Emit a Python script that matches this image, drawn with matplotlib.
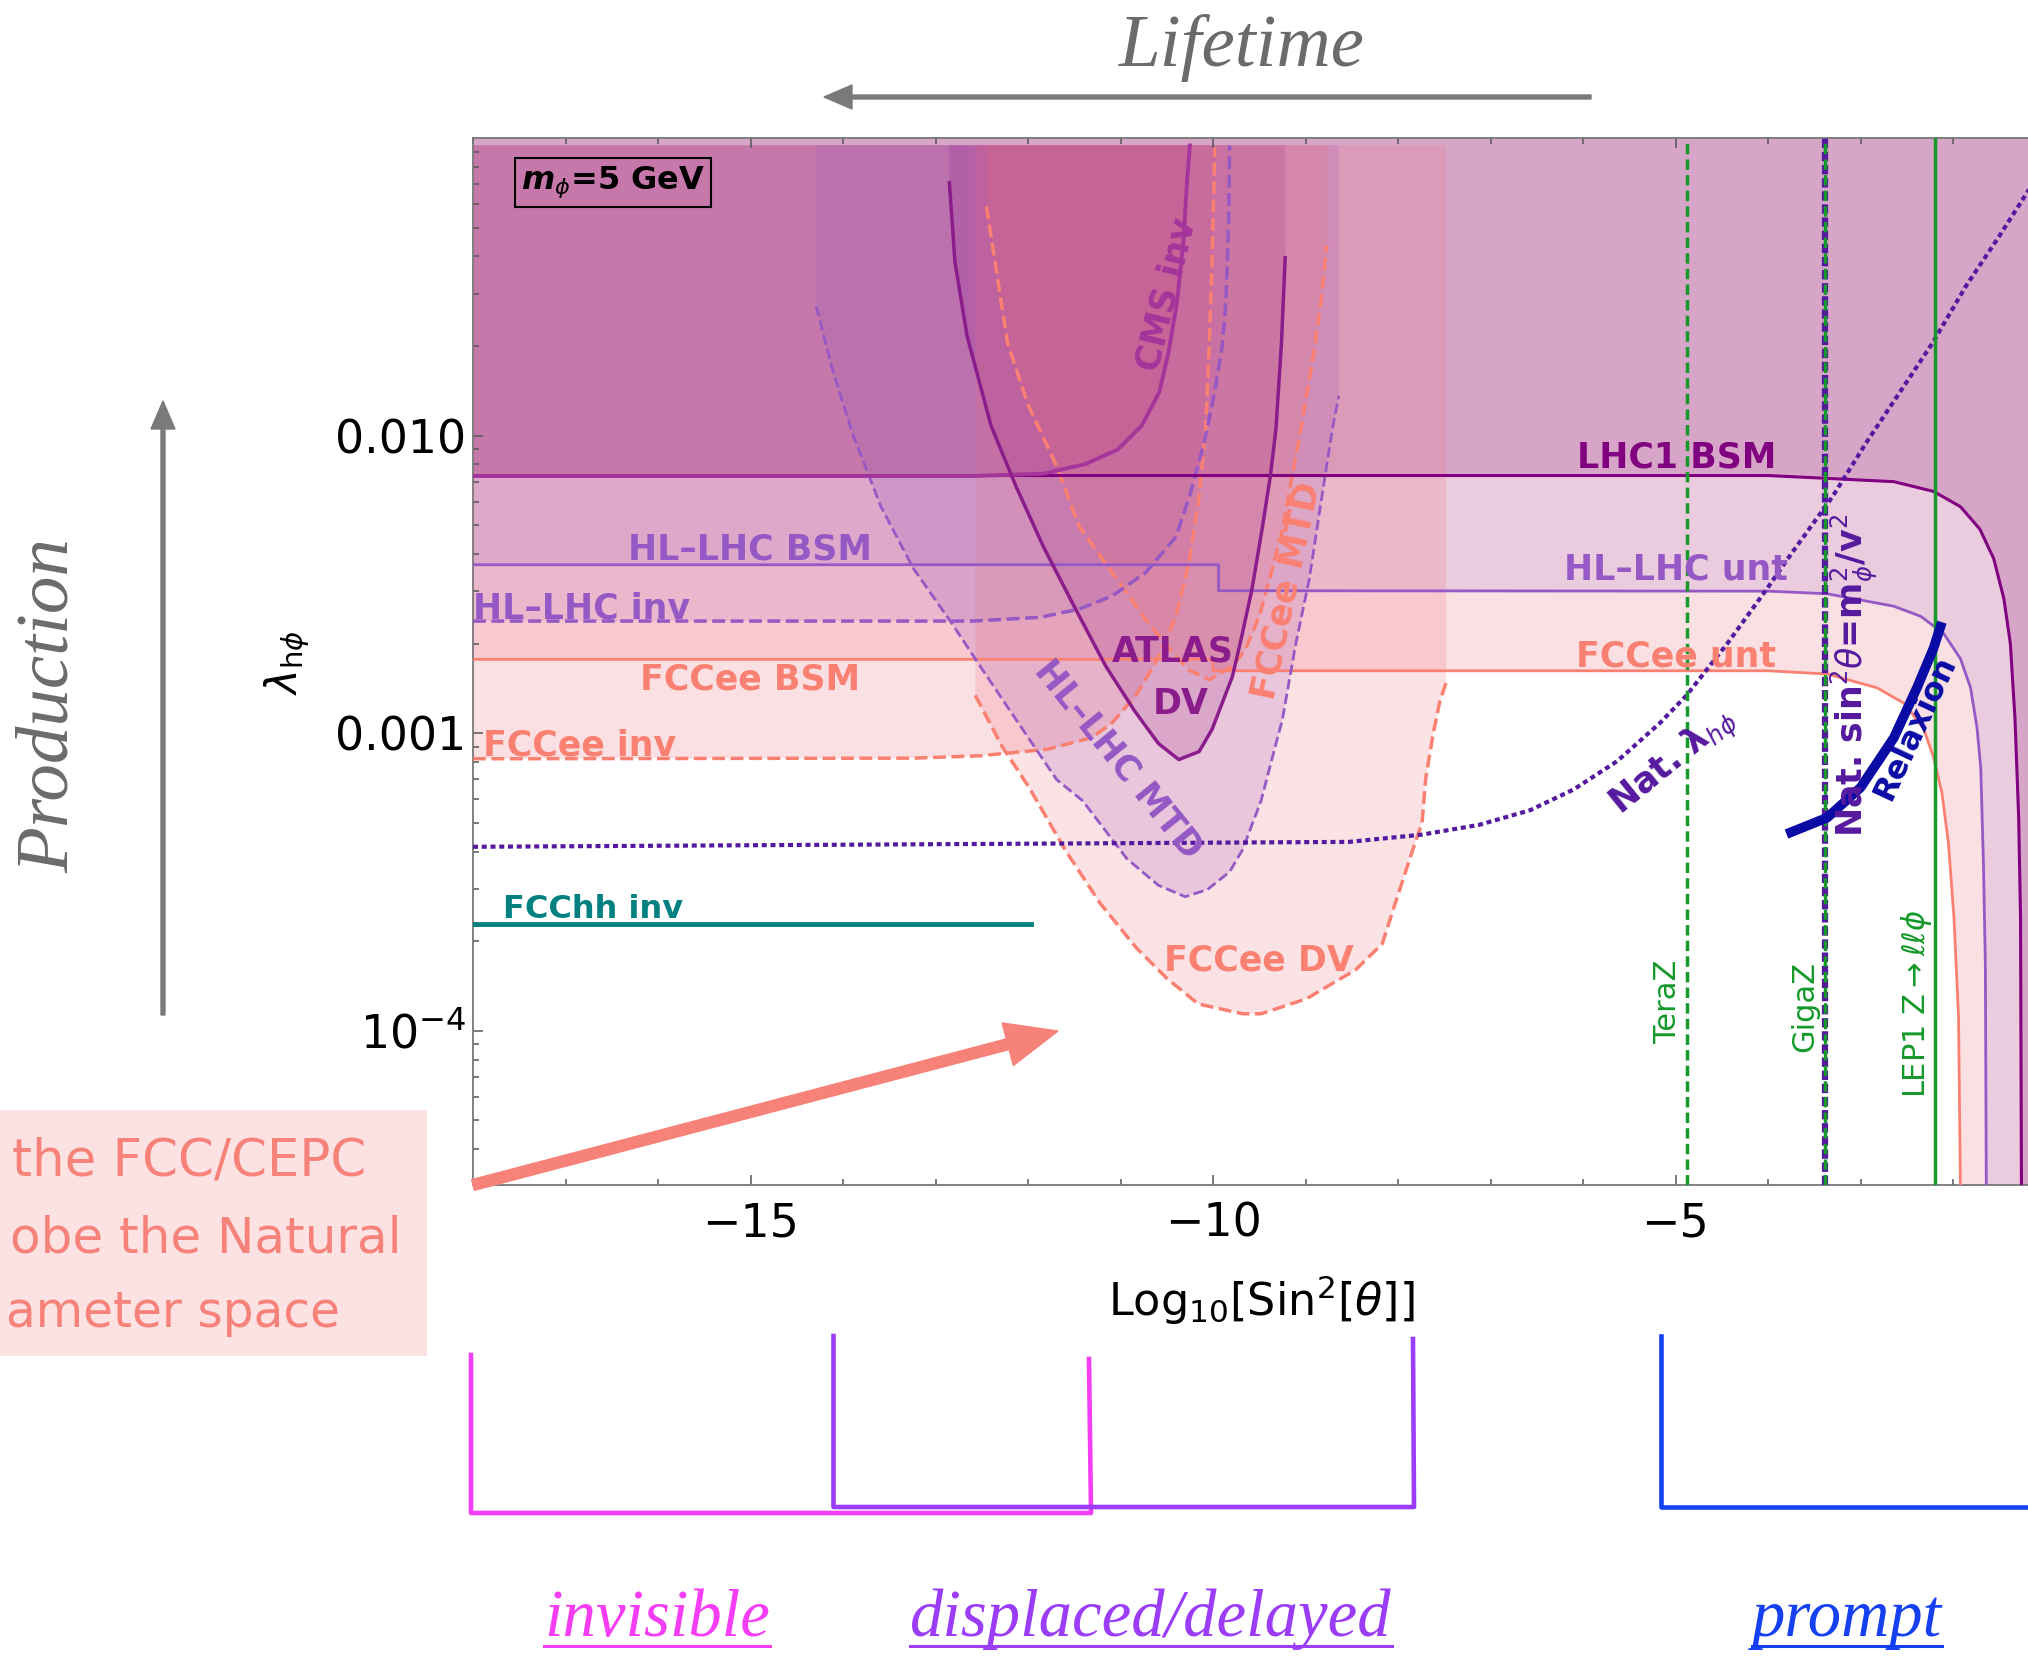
import matplotlib
matplotlib.use("Agg")
import matplotlib.pyplot as plt
from matplotlib.patches import FancyArrow, Rectangle
from matplotlib.ticker import FixedLocator, MultipleLocator, LogLocator, NullFormatter

plt.rcParams['font.family'] = 'DejaVu Sans'

# ---- values: x = log10(sin^2 theta), y = lambda_hphi ----
lhc1_x = [-18, -4.0, -3.36, -2.64, -2.21, -1.92, -1.71, -1.56, -1.45, -1.38, -1.33, -1.29, -1.27, -1.26]
lhc1_y = [7.34e-3, 7.34e-3, 7.18e-3, 7.0e-3, 6.49e-3, 5.77e-3, 4.85e-3, 3.86e-3, 2.83e-3, 2.0e-3,
          1.12e-3, 5.2e-4, 2.41e-4, 3.0e-5]

hl_x = [-18, -9.94, -9.94, -4.0, -3.36, -2.64, -2.35, -2.10, -1.92, -1.81, -1.74, -1.70, -1.67, -1.65, -1.64]
hl_y = [3.68e-3, 3.68e-3, 3.01e-3, 3.0e-3, 2.94e-3, 2.67e-3, 2.47e-3, 2.16e-3, 1.78e-3, 1.42e-3,
        1.04e-3, 7.66e-4, 3.54e-4, 1.64e-4, 3.0e-5]

fcc_x = [-18, -10.0, -10.0, -4.0, -3.36, -2.82, -2.53, -2.32, -2.21, -2.12, -2.05, -1.99, -1.94, -1.92]
fcc_y = [1.77e-3, 1.77e-3, 1.62e-3, 1.62e-3, 1.58e-3, 1.42e-3, 1.26e-3, 1.04e-3, 8.28e-4, 6.31e-4,
         4.29e-4, 2.41e-4, 1.11e-4, 3.0e-5]

cms_x = [-18, -12.6, -11.83, -11.38, -11.03, -10.77, -10.58, -10.48, -10.39, -10.32, -10.28, -10.25]
cms_y = [7.31e-3, 7.31e-3, 7.45e-3, 8.02e-3, 8.97e-3, 0.0108, 0.0140, 0.0191, 0.0280, 0.0449, 0.0719, 0.0944]

hlinv_x = [-18, -12.6, -11.87, -11.45, -11.09, -10.73, -10.40, -10.25, -10.10, -9.98, -9.90, -9.86, -9.83, -9.82]
hlinv_y = [2.38e-3, 2.38e-3, 2.45e-3, 2.61e-3, 2.89e-3, 3.46e-3, 4.57e-3, 6.31e-3, 9.33e-3, 0.0141,
           0.0200, 0.0282, 0.0525, 0.0944]

fccinv_x = [-18, -13.24, -12.52, -11.79, -11.31, -11.09, -10.84, -10.62, -10.40, -10.26, -10.15,
            -10.08, -10.04, -10.01, -9.98]
fccinv_y = [8.2e-4, 8.24e-4, 8.39e-4, 8.83e-4, 9.66e-4, 1.084e-3, 1.33e-3, 1.726e-3, 2.47e-3, 3.74e-3,
            6.25e-3, 0.0105, 0.0204, 0.0385, 0.0929]

hlmtd_x = [-14.29, -14.12, -13.90, -13.59, -13.24, -12.84, -12.49, -12.04, -11.69, -11.41, -10.93,
           -10.59, -10.30, -10.06, -9.82, -9.68, -9.48, -9.34, -9.25, -9.11, -8.96, -8.85, -8.71, -8.64]
hlmtd_y = [0.0272, 0.0169, 0.0102, 5.77e-3, 3.58e-3, 2.38e-3, 1.63e-3, 1.01e-3, 6.98e-4, 5.93e-4, 3.78e-4,
           3.08e-4, 2.82e-4, 2.98e-4, 3.42e-4, 4.06e-4, 5.93e-4, 8.71e-4, 1.11e-3, 1.96e-3, 3.28e-3,
           5.5e-3, 0.0105, 0.0136]

atlas_x = [-12.85, -12.79, -12.66, -12.40, -12.13, -11.83, -11.51, -11.16, -10.85, -10.59, -10.37,
           -10.15, -10.01, -9.79, -9.69, -9.58, -9.47, -9.38, -9.32, -9.26, -9.22]
atlas_y = [0.0708, 0.0384, 0.0217, 0.0108, 6.75e-3, 4.21e-3, 2.70e-3, 1.68e-3, 1.19e-3, 9.23e-4, 8.15e-4,
           8.67e-4, 1.03e-3, 1.55e-3, 2.11e-3, 3.03e-3, 4.83e-3, 7.3e-3, 0.0105, 0.0204, 0.0396]

fccmtd_x = [-12.45, -12.22, -12.0, -11.69, -11.45, -11.09, -10.73, -10.44, -10.26, -10.04, -9.79, -9.65,
            -9.50, -9.36, -9.25, -9.15, -9.05, -8.91, -8.83, -8.77]
fccmtd_y = [0.0589, 0.0204, 0.0127, 7.89e-3, 4.96e-3, 3.46e-3, 2.41e-3, 1.87e-3, 1.63e-3, 1.51e-3, 1.68e-3,
            1.91e-3, 2.47e-3, 3.55e-3, 4.83e-3, 7.11e-3, 0.0105, 0.0190, 0.0286, 0.0436]

fccdv_x = [-12.57, -12.28, -11.99, -11.60, -11.22, -10.83, -10.50, -10.16, -9.68, -9.48, -8.99, -8.46,
           -8.17, -8.03, -7.84, -7.74, -7.70, -7.62, -7.55, -7.48]
fccdv_y = [1.34e-3, 9.02e-4, 6.58e-4, 4.06e-4, 2.68e-4, 1.90e-4, 1.50e-4, 1.23e-4, 1.14e-4, 1.14e-4,
           1.28e-4, 1.60e-4, 1.96e-4, 2.68e-4, 4.06e-4, 5.0e-4, 7.05e-4, 9.95e-4, 1.27e-3, 1.48e-3]

fcchh_x = [-18, -11.97]
fcchh_y = [2.28e-4, 2.28e-4]

nat_x = [-18, -8.53, -7.74, -7.12, -6.57, -6.10, -5.63, -5.17, -4.88, -4.44, -4.01, -3.74, -3.30,
         -2.94, -2.58, -2.22, -1.86, -1.50, -1.20, -0.9]
nat_y = [4.15e-4, 4.31e-4, 4.56e-4, 4.92e-4, 5.51e-4, 6.47e-4, 8.05e-4, 1.08e-3, 1.34e-3, 2.0e-3,
         3.06e-3, 4.04e-3, 6.25e-3, 9.44e-3, 0.0139, 0.0205, 0.0318, 0.0468, 0.0655, 0.0916]

relax_x = [-3.80, -3.36, -3.0, -2.64, -2.39, -2.21, -2.12]
relax_y = [4.58e-4, 5.2e-4, 6.56e-4, 9.64e-4, 1.42e-3, 1.93e-3, 2.36e-3]

teraz_x = -4.88
gigaz_x = -3.38
lep1_x = -2.20

# ---- colours ----
c_lhc1 = '#800080'
c_cms = '#A5359A'
c_hl = '#9558C4'
c_fcc = '#FA8072'
c_atlas = '#8B1C8B'
c_nat = '#55199F'
c_green = '#15992A'
f_fcc = '#F0808C'
f_disp = '#EB6E7E'

W, H = 2028, 1660
fig = plt.figure(figsize=(W / 100, H / 100), dpi=100)
ax = fig.add_axes([473 / W, 1 - 1185 / H, 18 * 92.5 / W, (1185 - 138) / H])
ax.set_yscale('log')
ax.set_xlim(-18, 0)
ax.set_ylim(3.03e-5, 0.1)

TOP, TOP_INV, BOT, XR = 0.1, 0.0946, 3.0e-5, 0.0


def fill_right(x, y, color, alpha):
    ax.fill(x + [XR, XR, x[0]], y + [BOT, TOP, TOP], color=color, alpha=alpha, lw=0, zorder=1)


def fill_up(x, y, color, alpha):
    ax.fill(x + [x[-1], x[0]], y + [TOP_INV, TOP_INV], color=color, alpha=alpha, lw=0, zorder=1)


fill_right(fcc_x, fcc_y, f_fcc, 0.24)
fill_up(fccinv_x, fccinv_y, f_fcc, 0.24)
fill_right(hl_x, hl_y, c_hl, 0.15)
fill_up(hlinv_x, hlinv_y, c_hl, 0.15)
fill_right(lhc1_x, lhc1_y, '#8A106C', 0.2)
fill_up(cms_x, cms_y, '#BB468A', 0.25)
fill_up(hlmtd_x, hlmtd_y, c_hl, 0.2)
fill_up(atlas_x, atlas_y, c_atlas, 0.2)
fill_up(fccdv_x, fccdv_y, f_disp, 0.2)
fill_up(fccmtd_x, fccmtd_y, f_disp, 0.2)

# lines
ax.plot(fcc_x, fcc_y, color=c_fcc, lw=2, zorder=3)
ax.plot(fccinv_x, fccinv_y, color=c_fcc, lw=2.5, ls='--', zorder=3)
ax.plot(fccdv_x, fccdv_y, color=c_fcc, lw=2.5, ls='--', zorder=3)
ax.plot(fccmtd_x, fccmtd_y, color=c_fcc, lw=2.5, ls='--', zorder=3)
ax.plot(hl_x, hl_y, color=c_hl, lw=2, zorder=3)
ax.plot(hlinv_x, hlinv_y, color=c_hl, lw=2.5, ls='--', zorder=3)
ax.plot(hlmtd_x, hlmtd_y, color=c_hl, lw=2, ls='--', zorder=3)
ax.plot(lhc1_x, lhc1_y, color=c_lhc1, lw=2.2, zorder=3)
ax.plot(cms_x, cms_y, color=c_cms, lw=2.8, zorder=3)
ax.plot(atlas_x, atlas_y, color=c_atlas, lw=2.5, zorder=3)
ax.plot(fcchh_x, fcchh_y, color='#008080', lw=3.5, zorder=3)
ax.plot(nat_x, nat_y, color=c_nat, lw=3, ls=(0, (1.2, 0.9)), zorder=3)
ax.plot(relax_x, relax_y, color='#0A0AA5', lw=7, zorder=4, solid_capstyle='butt')
ax.axvline(teraz_x, color=c_green, lw=2.5, ls=(0, (3, 1.5)), zorder=3)
ax.axvline(gigaz_x, color=c_nat, lw=4.5, ls=(0, (1.5, 0.6)), zorder=3)
ax.axvline(gigaz_x, color=c_green, lw=2.5, ls=(0, (3, 1.5)), zorder=3)
ax.axvline(lep1_x, color=c_green, lw=2.5, zorder=3)

# labels inside the plot
lab = dict(fontsize=25, fontweight='bold', zorder=6)
ax.text(-4.99, 8.44e-3, 'LHC1 BSM', color=c_lhc1, ha='center', va='center', **lab)
ax.text(-15.01, 4.14e-3, 'HL\u2013LHC BSM', color=c_hl, ha='center', va='center', **lab)
ax.text(-18.0, 2.62e-3, 'HL\u2013LHC inv', color=c_hl, ha='left', va='center', **lab)
ax.text(-5.0, 3.55e-3, 'HL\u2013LHC unt', color=c_hl, ha='center', va='center', **lab)
ax.text(-15.01, 1.52e-3, 'FCCee BSM', color=c_fcc, ha='center', va='center', **lab)
ax.text(-17.89, 9.08e-4, 'FCCee inv', color=c_fcc, ha='left', va='center', **lab)
ax.text(-5.0, 1.81e-3, 'FCCee unt', color=c_fcc, ha='center', va='center', **lab)
ax.text(-17.68, 2.55e-4, 'FCChh inv', color='#008080', ha='left', va='center', fontsize=23,
        fontweight='bold', zorder=6)
ax.text(-10.50, 0.0298, 'CMS inv', color=c_cms, ha='center', va='center', rotation=76, **lab)
ax.text(-10.43, 1.88e-3, 'ATLAS', color=c_atlas, ha='center', va='center', **lab)
ax.text(-10.35, 1.25e-3, 'DV', color=c_atlas, ha='center', va='center', **lab)
ax.text(-11.02, 8.15e-4, 'HL\u2013LHC MTD', color=c_hl, ha='center', va='center', rotation=-51, **lab)
ax.text(-9.2, 3.01e-3, 'FCCee MTD', color=c_fcc, ha='center', va='center', rotation=78, **lab)
ax.text(-9.5, 1.72e-4, 'FCCee DV', color=c_fcc, ha='center', va='center', **lab)
ax.text(-5.02, 7.96e-4, 'Nat. \u03bb$_{h\\phi}$', color=c_nat, ha='center', va='center', rotation=39,
        fontsize=25, fontweight='bold', zorder=6)
ax.text(-3.07, 1.56e-3, 'Nat. sin$^{2}\\theta$=m$_{\\phi}^{2}$/v$^{2}$', color=c_nat, ha='center',
        va='center', rotation=90, fontsize=25, fontweight='bold', zorder=6)
ax.text(-2.41, 1.04e-3, 'Relaxion', color='#0A0AA5', ha='center', va='center', rotation=65,
        fontsize=23, fontweight='bold', zorder=6)
ax.text(-5.09, 1.25e-4, 'TeraZ', color=c_green, ha='center', va='center', rotation=90, fontsize=22, zorder=6)
ax.text(-3.60, 1.21e-4, 'GigaZ', color=c_green, ha='center', va='center', rotation=90, fontsize=22, zorder=6)
ax.text(-2.39, 1.23e-4, 'LEP1 Z$\\to\\ell\\ell\\phi$', color=c_green, ha='center', va='center',
        rotation=90, fontsize=22, zorder=6)
ax.text(0.0841, 0.9575, '$\\mathbfit{m}_{\\phi}$=5 GeV', transform=ax.transAxes, ha='center', va='center',
        fontsize=23, fontweight='bold', zorder=7,
        bbox=dict(boxstyle='square,pad=0.2', fc='none', ec='black', lw=1.5))

# axes styling
ax.xaxis.set_major_locator(FixedLocator([-15, -10, -5]))
ax.xaxis.set_minor_locator(MultipleLocator(1))
ax.set_yticks([1e-4, 1e-3, 1e-2], labels=['$10^{-4}$', '0.001', '0.010'])
ax.yaxis.set_minor_locator(LogLocator(base=10, subs=range(2, 10)))
ax.yaxis.set_minor_formatter(NullFormatter())
ax.tick_params(which='both', direction='in', top=True, right=True, color='#555555', width=1.1)
ax.tick_params(which='major', length=7, labelsize=33)
ax.tick_params(which='minor', length=4.3)
ax.tick_params(axis='x', pad=12)
ax.tick_params(axis='y', pad=5)
for s in ax.spines.values():
    s.set_color('#777777')
    s.set_linewidth(1.3)

# overlay in figure pixels for the annotations around the plot
ov = fig.add_axes([0, 0, 1, 1], zorder=10)
ov.set_xlim(0, W)
ov.set_ylim(H, 0)
ov.axis('off')
ov.patch.set_alpha(0)

serif = dict(family=['Liberation Serif', 'DejaVu Serif'], style='italic')
ov.text(1242, 48, 'Lifetime', ha='center', va='center', fontsize=54, color='#6B6B6B', **serif)
ov.add_patch(FancyArrow(1591, 97, -767, 0, width=4, head_width=24, head_length=28,
                        length_includes_head=True, color='#7A7A7A'))
ov.text(50, 706, 'Production', ha='center', va='center', rotation=90, fontsize=54, color='#6B6B6B', **serif)
ov.add_patch(FancyArrow(163, 1015, 0, -614, width=4, head_width=24, head_length=28,
                        length_includes_head=True, color='#7A7A7A'))

ov.text(287, 662, '$\\lambda_{\\mathrm{h}\\phi}$', ha='center', va='center', rotation=90, fontsize=30)
ov.text(1261, 1300, 'Log$_{10}$[Sin$^{2}$[$\\theta$]]', ha='center', va='center', fontsize=32)

# note box and arrow
ov.add_patch(Rectangle((0, 1110), 427, 246, color='#FDE2E4', lw=0))
note_lines = ['the FCC/CEPC', 'obe the Natural', 'ameter space']
note_right = [366, 402, 340]
note_y = [1161, 1238, 1313]
notes = [ov.text(xr, yc, s, ha='right', va='center', fontsize=40, color='#F7827A')
         for s, xr, yc in zip(note_lines, note_right, note_y)]
ov.add_patch(FancyArrow(473, 1185, 585, -154, width=11, head_width=44, head_length=52,
                        length_includes_head=True, color='#F7827A', zorder=5))

# brackets
ov.plot([471, 471, 1091, 1089], [1355, 1513, 1513, 1359], color='#F53DF5', lw=3.3)
ov.plot([833.5, 833.5, 1414, 1413], [1336, 1507, 1507, 1339], color='#9B3DF7', lw=3.3)
ov.plot([1661, 1661, 2040], [1336, 1507, 1507], color='#1540F0', lw=3.3)

cats = ['invisible', 'displaced/delayed', 'prompt']
cat_x = [657, 1151, 1847]
cat_col = ['#F53DF5', '#9B3DF7', '#1540F0']
texts = []
for name, xc, col in zip(cats, cat_x, cat_col):
    texts.append(ov.text(xc, 1619, name, ha='center', va='center', fontsize=48, color=col, **serif))

fig.canvas.draw()
r = fig.canvas.get_renderer()
# keep the note text inside the picture
for t in notes:
    while t.get_window_extent(r).x0 < 3 and t.get_fontsize() > 20:
        t.set_fontsize(t.get_fontsize() - 1)
for t, col in zip(texts, cat_col):
    bb = t.get_window_extent(r)
    ov.plot([bb.x0, bb.x1], [1646, 1646], color=col, lw=2.2)

fig.savefig('out.png', dpi=100)
